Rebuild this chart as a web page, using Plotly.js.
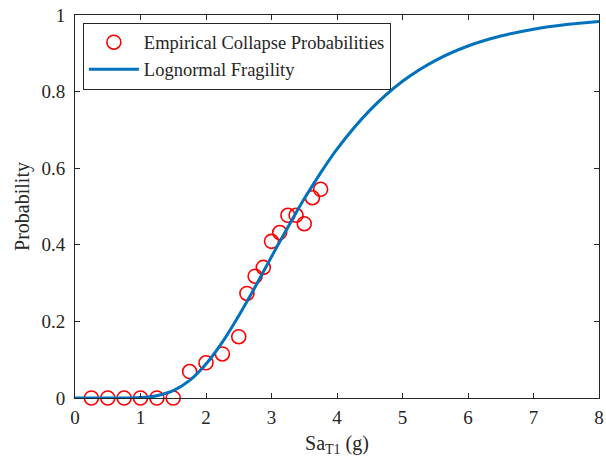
<!DOCTYPE html>
<html>
<head>
<meta charset="utf-8">
<script src="https://cdn.plot.ly/plotly-3.0.1.min.js"></script>
<style>html,body{margin:0;padding:0;background:#fff;}#chart{width:606px;height:459px;}</style>
</head>
<body>
<div id="chart"></div>
<script>
// Empirical collapse probabilities
const empiricalSa = [0.25, 0.5, 0.75, 1.0, 1.25, 1.5, 1.75, 2.0, 2.25, 2.5, 2.625, 2.75, 2.875, 3.0, 3.125, 3.25, 3.375, 3.5, 3.625, 3.75];
const empiricalP  = [0, 0, 0, 0, 0, 0, 0.069, 0.092, 0.115, 0.160, 0.273, 0.318, 0.341, 0.409, 0.432, 0.477, 0.477, 0.455, 0.523, 0.545];

// Lognormal fragility curve
const fragilitySa = [0, 0.5, 0.75, 1.0, 1.25, 1.5, 1.75, 2.0, 2.25, 2.5, 2.75, 3.0, 3.25, 3.5, 3.75, 4.0, 4.5, 5.0, 5.5, 6.0, 6.5, 7.0, 7.5, 8.0];
const fragilityP  = [0, 0, 0.0001, 0.001, 0.006, 0.019, 0.046, 0.089, 0.146, 0.215, 0.290, 0.369, 0.446, 0.520, 0.588, 0.650, 0.751, 0.827, 0.881, 0.919, 0.945, 0.963, 0.975, 0.983];

const xTicks = [0, 1, 2, 3, 4, 5, 6, 7, 8];
const yTicks = [0, 0.2, 0.4, 0.6, 0.8, 1];
const yTickText = ['0', '0.2', '0.4', '0.6', '0.8', '1'];

const font = 'Liberation Serif';
const ink = '#262626';

const traces = [
  {
    x: empiricalSa, y: empiricalP, type: 'scatter', mode: 'markers',
    name: 'Empirical Collapse Probabilities',
    marker: {symbol: 'circle-open', size: 14, color: '#ff0000', line: {width: 1.6, color: '#ff0000'}},
    cliponaxis: false
  },
  {
    x: fragilitySa, y: fragilityP, type: 'scatter', mode: 'lines',
    name: 'Lognormal Fragility',
    line: {color: '#0072bd', width: 3, shape: 'spline', smoothing: 0.8}
  }
];

const axisCommon = {
  showgrid: false, zeroline: false, showline: true, linecolor: ink, linewidth: 1,
  mirror: 'ticks', ticks: 'inside', ticklen: 5, tickwidth: 1, tickcolor: ink,
  tickfont: {family: font, size: 19, color: ink}
};

const layout = {
  width: 606, height: 459,
  margin: {l: 75, r: 7, t: 15, b: 61},
  paper_bgcolor: '#ffffff', plot_bgcolor: '#ffffff',
  font: {family: font, color: ink},
  showlegend: true,
  legend: {
    x: 0.015, y: 0.98, xanchor: 'left', yanchor: 'top',
    bgcolor: '#ffffff', bordercolor: ink, borderwidth: 1,
    font: {family: font, size: 18.5, color: ink},
    itemwidth: 50,
    tracegroupgap: 0
  },
  xaxis: Object.assign({}, axisCommon, {
    range: [0, 8], tickvals: xTicks, ticklabelstandoff: 2,
    title: {text: 'Sa<sub>T1</sub> (g)', font: {family: font, size: 20, color: ink}, standoff: 9}
  }),
  yaxis: Object.assign({}, axisCommon, {
    range: [0, 1], tickvals: yTicks, ticktext: yTickText, ticklabelstandoff: 5,
    title: {text: 'Probability', font: {family: font, size: 20, color: ink}, standoff: 6}
  })
};

Plotly.newPlot('chart', traces, layout, {staticPlot: true, displayModeBar: false});
</script>
</body>
</html>
